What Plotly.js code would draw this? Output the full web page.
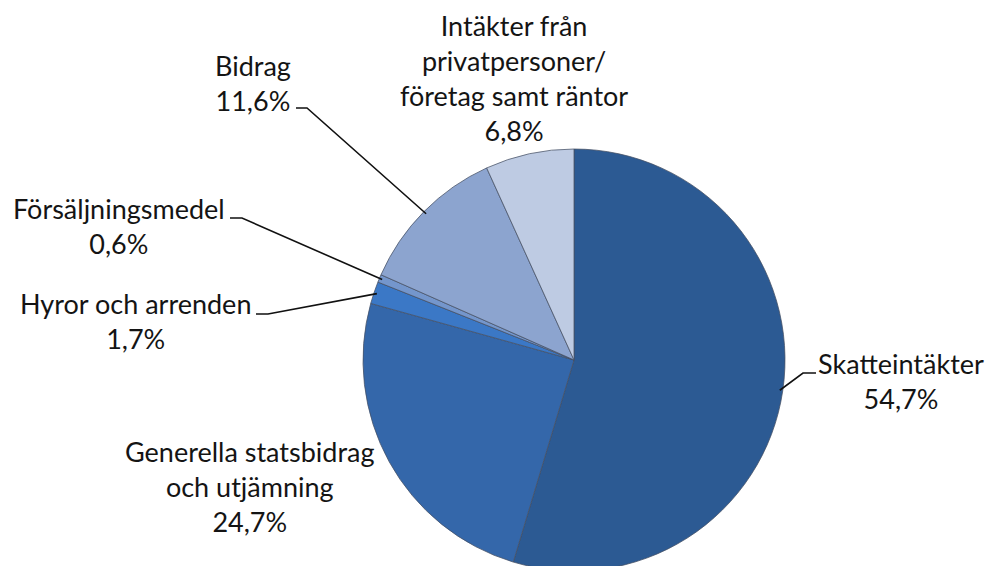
<!DOCTYPE html>
<html>
<head>
<meta charset="utf-8">
<script src="https://cdn.plot.ly/plotly-3.0.1.min.js"></script>
<style>html,body{margin:0;padding:0;background:#fff;overflow:hidden;}#wrap{width:988px;height:566px;overflow:hidden;}#chart{width:988px;height:580px;}</style>
</head>
<body>
<div id="wrap"><div id="chart"></div></div>
<script>
// ---- data ----
const labels = [
  "Skatteintäkter",
  "Generella statsbidrag<br>och utjämning",
  "Hyror och arrenden",
  "Försäljningsmedel",
  "Bidrag",
  "Intäkter från<br>privatpersoner/<br>företag samt räntor"
];
const values = [54.7, 24.7, 1.7, 0.6, 11.6, 6.8];
const colors = ["#2C5A93", "#3467AA", "#3B78C6", "#7496CC", "#8CA4CF", "#BECBE3"];

// ---- layout helpers (pixel positions of label blocks and leader elbows) ----
const W = 988, H = 580;
const cx = 574, cy = 360, R = 211;
const labelPos = [
  [901, 381], [250, 486], [135, 321], [119, 226], [253, 83], [514, 78]
];
// leader line start + elbow (pixel), null = no leader
const leaders = [
  [[816, 373], [803, 373]],
  null,
  [[256, 314], [268, 314]],
  [[230, 218], [242, 218]],
  [[296, 108], [307, 108]],
  null
];
const px = x => x / W, py = y => 1 - y / H;

const total = values.reduce((a, b) => a + b, 0);
const fmt = v => v.toFixed(1).replace('.', ',') + '%';

const annotations = labels.map((l, i) => ({
  text: l + '<br>' + fmt(values[i]),
  x: px(labelPos[i][0]), y: py(labelPos[i][1]),
  xref: 'paper', yref: 'paper', xanchor: 'center', yanchor: 'middle',
  showarrow: false, align: 'center',
  font: {family: 'Lato, sans-serif', size: 27, color: '#141414'}
}));

// anchor points on the pie rim from slice mid-angles
const shapes = [];
let cum = 0;
values.forEach((v, i) => {
  const mid = (cum + v / 2) / total * 2 * Math.PI;
  cum += v;
  if (!leaders[i]) return;
  const rr = R - 3;
  const ax = cx + rr * Math.sin(mid), ay = cy - rr * Math.cos(mid);
  const [p0, p1] = leaders[i];
  shapes.push({
    type: 'path', xref: 'paper', yref: 'paper',
    path: `M ${px(p0[0])} ${py(p0[1])} L ${px(p1[0])} ${py(p1[1])} L ${px(ax)} ${py(ay)}`,
    line: {color: '#111', width: 1.6}
  });
});

const trace = {
  type: 'pie',
  labels: labels, values: values,
  sort: false, direction: 'clockwise', rotation: 0,
  textinfo: 'none', hoverinfo: 'label+percent',
  marker: {colors: colors, line: {color: 'rgba(70,80,100,0.75)', width: 1}},
  domain: {x: [(cx - R) / W, (cx + R) / W], y: [1 - (cy + R) / H, 1 - (cy - R) / H]},
  showlegend: false
};

Plotly.newPlot('chart', [trace], {
  width: W, height: H,
  margin: {l: 0, r: 0, t: 0, b: 0},
  paper_bgcolor: '#ffffff',
  showlegend: false,
  annotations: annotations,
  shapes: shapes
}, {displayModeBar: false, staticPlot: true});
</script>
</body>
</html>
